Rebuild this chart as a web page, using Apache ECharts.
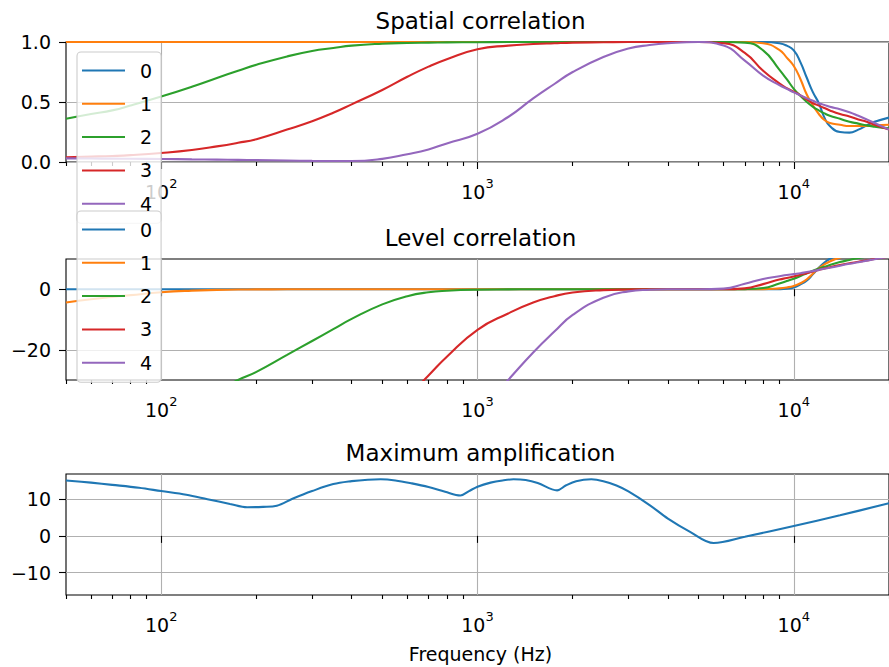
<!DOCTYPE html>
<html>
<head>
<meta charset="utf-8">
<script src="https://cdn.jsdelivr.net/npm/echarts@6/dist/echarts.min.js"></script>
<style>html,body{margin:0;padding:0;background:#fff;}#c{width:889px;height:667px;}</style>
</head>
<body>
<div id="c"></div>
<script>
// ---------- data ----------
const freq = [50, 60, 70, 80, 100, 125, 150, 175, 200, 250, 300, 350, 400, 500, 600, 700, 800, 1000, 1250, 1500, 1750, 2000, 2500, 3000, 3500, 4000, 5000, 6000, 7000, 8000, 9000, 9500, 10000, 10500, 11000, 11500, 12000, 12500, 13000, 14000, 15000, 16000, 17000, 18000, 20000];

const seriesNames = ['0', '1', '2', '3', '4'];

const spatial0 = [1,1,1,1,1,1,1,1,1,1,1,1,1,1,1,1,1,1,1,1,1,1,1,1,1,1,1,1,1,1, 0.99, 0.97, 0.93, 0.83, 0.70, 0.58, 0.49, 0.37, 0.30, 0.25, 0.245, 0.27, 0.305, 0.335, 0.37];
const spatial1 = [1,1,1,1,1,1,1,1,1,1,1,1,1,1,1,1,1,1,1,1,1,1,1,1,1,1,1,1,1, 0.99, 0.935, 0.87, 0.80, 0.69, 0.56, 0.47, 0.40, 0.35, 0.325, 0.31, 0.30, 0.30, 0.30, 0.305, 0.31];
const spatial2 = [0.36, 0.40, 0.43, 0.47, 0.545, 0.627, 0.70, 0.76, 0.81, 0.88, 0.925, 0.95, 0.97, 0.986, 0.992, 0.995, 0.997, 0.998, 1,1,1,1,1,1,1,1,1,1, 0.995, 0.93, 0.77, 0.69, 0.61, 0.55, 0.50, 0.46, 0.43, 0.405, 0.385, 0.36, 0.335, 0.32, 0.305, 0.295, 0.28];
const spatial3 = [0.04, 0.045, 0.05, 0.057, 0.075, 0.10, 0.13, 0.16, 0.19, 0.27, 0.34, 0.41, 0.48, 0.60, 0.71, 0.795, 0.857, 0.94, 0.97, 0.983, 0.99, 0.995, 0.998, 1, 1, 1, 1, 0.99, 0.91, 0.76, 0.655, 0.615, 0.585, 0.555, 0.52, 0.49, 0.47, 0.45, 0.43, 0.40, 0.38, 0.355, 0.335, 0.31, 0.27];
const spatial4 = [0.03, 0.029, 0.028, 0.027, 0.025, 0.022, 0.02, 0.018, 0.016, 0.012, 0.009, 0.008, 0.008, 0.026, 0.065, 0.105, 0.155, 0.235, 0.375, 0.53, 0.65, 0.75, 0.875, 0.945, 0.975, 0.99, 1.0, 0.97, 0.845, 0.72, 0.64, 0.61, 0.58, 0.555, 0.53, 0.51, 0.49, 0.475, 0.46, 0.44, 0.415, 0.385, 0.355, 0.325, 0.27];

const level0 = [0,0,0,0,0,0,0,0,0,0,0,0,0,0,0,0,0,0,0,0,0,0,0,0,0,0,0,0,0,0, 0.05, 0.2, 0.6, 1.6, 2.9, 5.0, 7.1, 8.8, 10.1, 11.5, 12.5, 13, 13.3, 13.5, 13.5];
const level1 = [-4.4, -3.3, -2.55, -1.95, -1.0, -0.45, -0.22, -0.1, -0.05, -0.02, 0,0,0,0,0,0,0,0,0,0,0,0,0,0,0,0,0,0,0,0, 0.3, 0.6, 1.1, 2.0, 3.3, 5.2, 7.0, 8.2, 9.2, 10.5, 11.3, 12, 12.5, 12.8, 13];
const level2 = [-54, -51, -48.5, -46, -42, -37.5, -33.5, -30, -27.3, -21.7, -17.1, -13.2, -9.8, -5.0, -2.3, -1.0, -0.5, -0.15, -0.05, 0,0,0,0,0,0,0,0,0, 0.05, 0.4, 1.9, 2.7, 3.5, 4.4, 5.3, 6.1, 6.9, 7.4, 8.0, 9.0, 9.7, 10.3, 10.8, 11.2, 12];
const level3 = [-95, -90, -86, -82, -76, -70, -66, -62, -59, -54, -50, -47, -45, -42, -35.5, -28.5, -22.3, -13.4, -8.0, -4.4, -2.3, -1.1, -0.3, -0.08, 0, 0, 0, 0, 0.3, 1.7, 3.2, 3.7, 4.2, 4.8, 5.3, 5.9, 6.4, 6.9, 7.3, 8.0, 8.6, 9.1, 9.5, 10.0, 10.8];
const level4 = [-110, -106, -102, -99, -95, -90, -86, -83, -80, -75, -71, -67, -64, -58, -53, -49, -45, -41, -30, -20.9, -14, -8.5, -2.8, -0.7, -0.15, 0, 0, 0.2, 1.85, 3.4, 4.3, 4.7, 5.0, 5.3, 5.7, 6.0, 6.4, 6.8, 7.1, 7.8, 8.4, 8.9, 9.4, 9.9, 10.8];

const ampFreq = [50, 60, 70, 85, 100, 120, 140, 165, 187, 210, 232, 260, 300, 350, 400, 450, 494, 550, 620, 700, 790, 883, 940, 1000, 1100, 1200, 1300, 1420, 1550, 1786, 1900, 2050, 2290, 2500, 2750, 3000, 3500, 4000, 4700, 5580, 7000, 10000, 14000, 20000];
const ampGain = [15.1, 14.5, 13.9, 13.1, 12.2, 11.2, 10.0, 8.7, 7.8, 7.9, 8.2, 10.1, 12.2, 14.1, 14.9, 15.3, 15.4, 15.1, 14.3, 13.3, 12.0, 11.0, 12.2, 13.4, 14.5, 15.1, 15.4, 15.2, 14.4, 12.4, 13.7, 14.9, 15.4, 14.9, 13.7, 12.1, 8.4, 4.7, 1.1, -1.95, -0.25, 2.7, 5.6, 8.9];

const majorTicksX = [100, 1000, 10000];
const minorTicksX = [50, 60, 70, 80, 90, 200, 300, 400, 500, 600, 700, 800, 900, 2000, 3000, 4000, 5000, 6000, 7000, 8000, 9000, 20000];
const spatialTicks = [0, 0.5, 1];
const levelTicks = [-20, 0];
const ampTicks = [-10, 0, 10];
const titles = ['Spatial correlation', 'Level correlation', 'Maximum amplification'];
const xLabel = 'Frequency (Hz)';

// ---------- style ----------
const FONT = 'DejaVu Sans';
const colors = ['#1f77b4', '#ff7f0e', '#2ca02c', '#d62728', '#9467bd'];
const gridTops = [42, 259, 474];
const gridH = [120, 121, 121];
const X0 = 66, W = 829;

const spatial = [spatial0, spatial1, spatial2, spatial3, spatial4];
const level = [level0, level1, level2, level3, level4];

const grids = gridTops.map((t, i) => ({
  left: X0, top: t, width: W, height: gridH[i],
  show: true, borderColor: '#000', borderWidth: 1.1, backgroundColor: 'transparent'
}));

const xAxes = [];
for (let g = 0; g < 3; g++) {
  xAxes.push({
    type: 'log', logBase: 10, gridIndex: g, min: 50, max: 20000, position: 'bottom',
    axisLine: { show: false },
    axisTick: { show: true, length: 7, customValues: majorTicksX, lineStyle: { color: '#000', width: 1.1 } },
    axisLabel: {
      show: true, customValues: majorTicksX, margin: 15,
      formatter: v => '{b|10}{s|' + Math.round(Math.log10(v)) + '}',
      rich: {
        b: { fontFamily: FONT, fontSize: 19, color: '#000', lineHeight: 24, verticalAlign: 'bottom' },
        s: { fontFamily: FONT, fontSize: 13, color: '#000', lineHeight: 24, verticalAlign: 'top' }
      }
    },
    splitLine: { show: true, lineStyle: { color: '#b0b0b0', width: 1.1 } },
    minorTick: { show: false }, minorSplitLine: { show: false }
  });
  xAxes.push({
    type: 'log', logBase: 10, gridIndex: g, min: 50, max: 20000, position: 'bottom',
    axisLine: { show: false },
    axisTick: { show: true, length: 4, customValues: minorTicksX, lineStyle: { color: '#000', width: 1.1 } },
    axisLabel: { show: false },
    splitLine: { show: false }
  });
}

function yAxis(g, min, max, ticks, fmt) {
  return {
    type: 'value', gridIndex: g, min: min, max: max,
    axisLine: { show: false },
    axisTick: { show: true, length: 7, customValues: ticks, lineStyle: { color: '#000', width: 1.1 } },
    axisLabel: { show: true, customValues: ticks, margin: 15, fontFamily: FONT, fontSize: 19, color: '#000', formatter: fmt },
    splitLine: { show: true, lineStyle: { color: '#b0b0b0', width: 1.1 } }
  };
}
const minusFmt = v => String(v).replace('-', '\u2212');
const yAxes = [
  yAxis(0, 0, 1, spatialTicks, v => v.toFixed(1)),
  yAxis(1, -30, 10, levelTicks, minusFmt),
  yAxis(2, -16.1, 16.85, ampTicks, minusFmt)
];

const series = [];
seriesNames.forEach((n, i) => {
  series.push({
    type: 'line', name: n, xAxisIndex: 0, yAxisIndex: 0,
    data: freq.map((f, k) => [f, spatial[i][k]]),
    symbol: 'none', smooth: 0.5, clip: true,
    lineStyle: { color: colors[i], width: 2.1 }, itemStyle: { color: colors[i] },
    emphasis: { disabled: true }
  });
});
seriesNames.forEach((n, i) => {
  series.push({
    type: 'line', name: n, xAxisIndex: 2, yAxisIndex: 1,
    data: freq.map((f, k) => [f, level[i][k]]),
    symbol: 'none', smooth: 0.5, clip: true,
    lineStyle: { color: colors[i], width: 2.1 }, itemStyle: { color: colors[i] },
    emphasis: { disabled: true }
  });
});
series.push({
  type: 'line', name: 'amp', xAxisIndex: 4, yAxisIndex: 2,
  data: ampFreq.map((f, k) => [f, ampGain[k]]),
  symbol: 'none', smooth: 0.35, clip: true,
  lineStyle: { color: colors[0], width: 2.1 }, itemStyle: { color: colors[0] },
  emphasis: { disabled: true }
});

function legend(top) {
  return {
    data: seriesNames, orient: 'vertical', left: 77, top: top,
    padding: [9, 9, 10, 5], itemWidth: 43, itemHeight: 2, icon: 'rect', itemGap: 14.3,
    backgroundColor: 'rgba(255,255,255,0.8)', borderColor: '#cccccc', borderWidth: 1.1, borderRadius: 4,
    selectedMode: false, z: 10,
    textStyle: { fontFamily: FONT, fontSize: 19, lineHeight: 16, color: '#000', padding: [0, 0, 0, 10] }
  };
}

const textEl = (txt, x, y, size) => ({
  type: 'text', x: x, y: y, z: 20,
  style: { text: txt, fontFamily: FONT, fontSize: size, fill: '#000',
    align: 'center', verticalAlign: 'bottom', textAlign: 'center', textVerticalAlign: 'bottom' }
});
const titleBaselines = [26.5, 243.5, 459];
const graphics = titles.map((t, i) => textEl(t, X0 + W / 2, titleBaselines[i] + 5.5, 23));
graphics.push(textEl(xLabel, X0 + W / 2, 659 + 4.5, 19));

const chart = echarts.init(document.getElementById('c'), null, { renderer: 'svg', width: 889, height: 667 });
chart.setOption({
  animation: false,
  backgroundColor: '#fff',
  grid: grids,
  xAxis: xAxes,
  yAxis: yAxes,
  legend: [legend(52), legend(211)],
  series: series,
  graphic: graphics
});
</script>
</body>
</html>
